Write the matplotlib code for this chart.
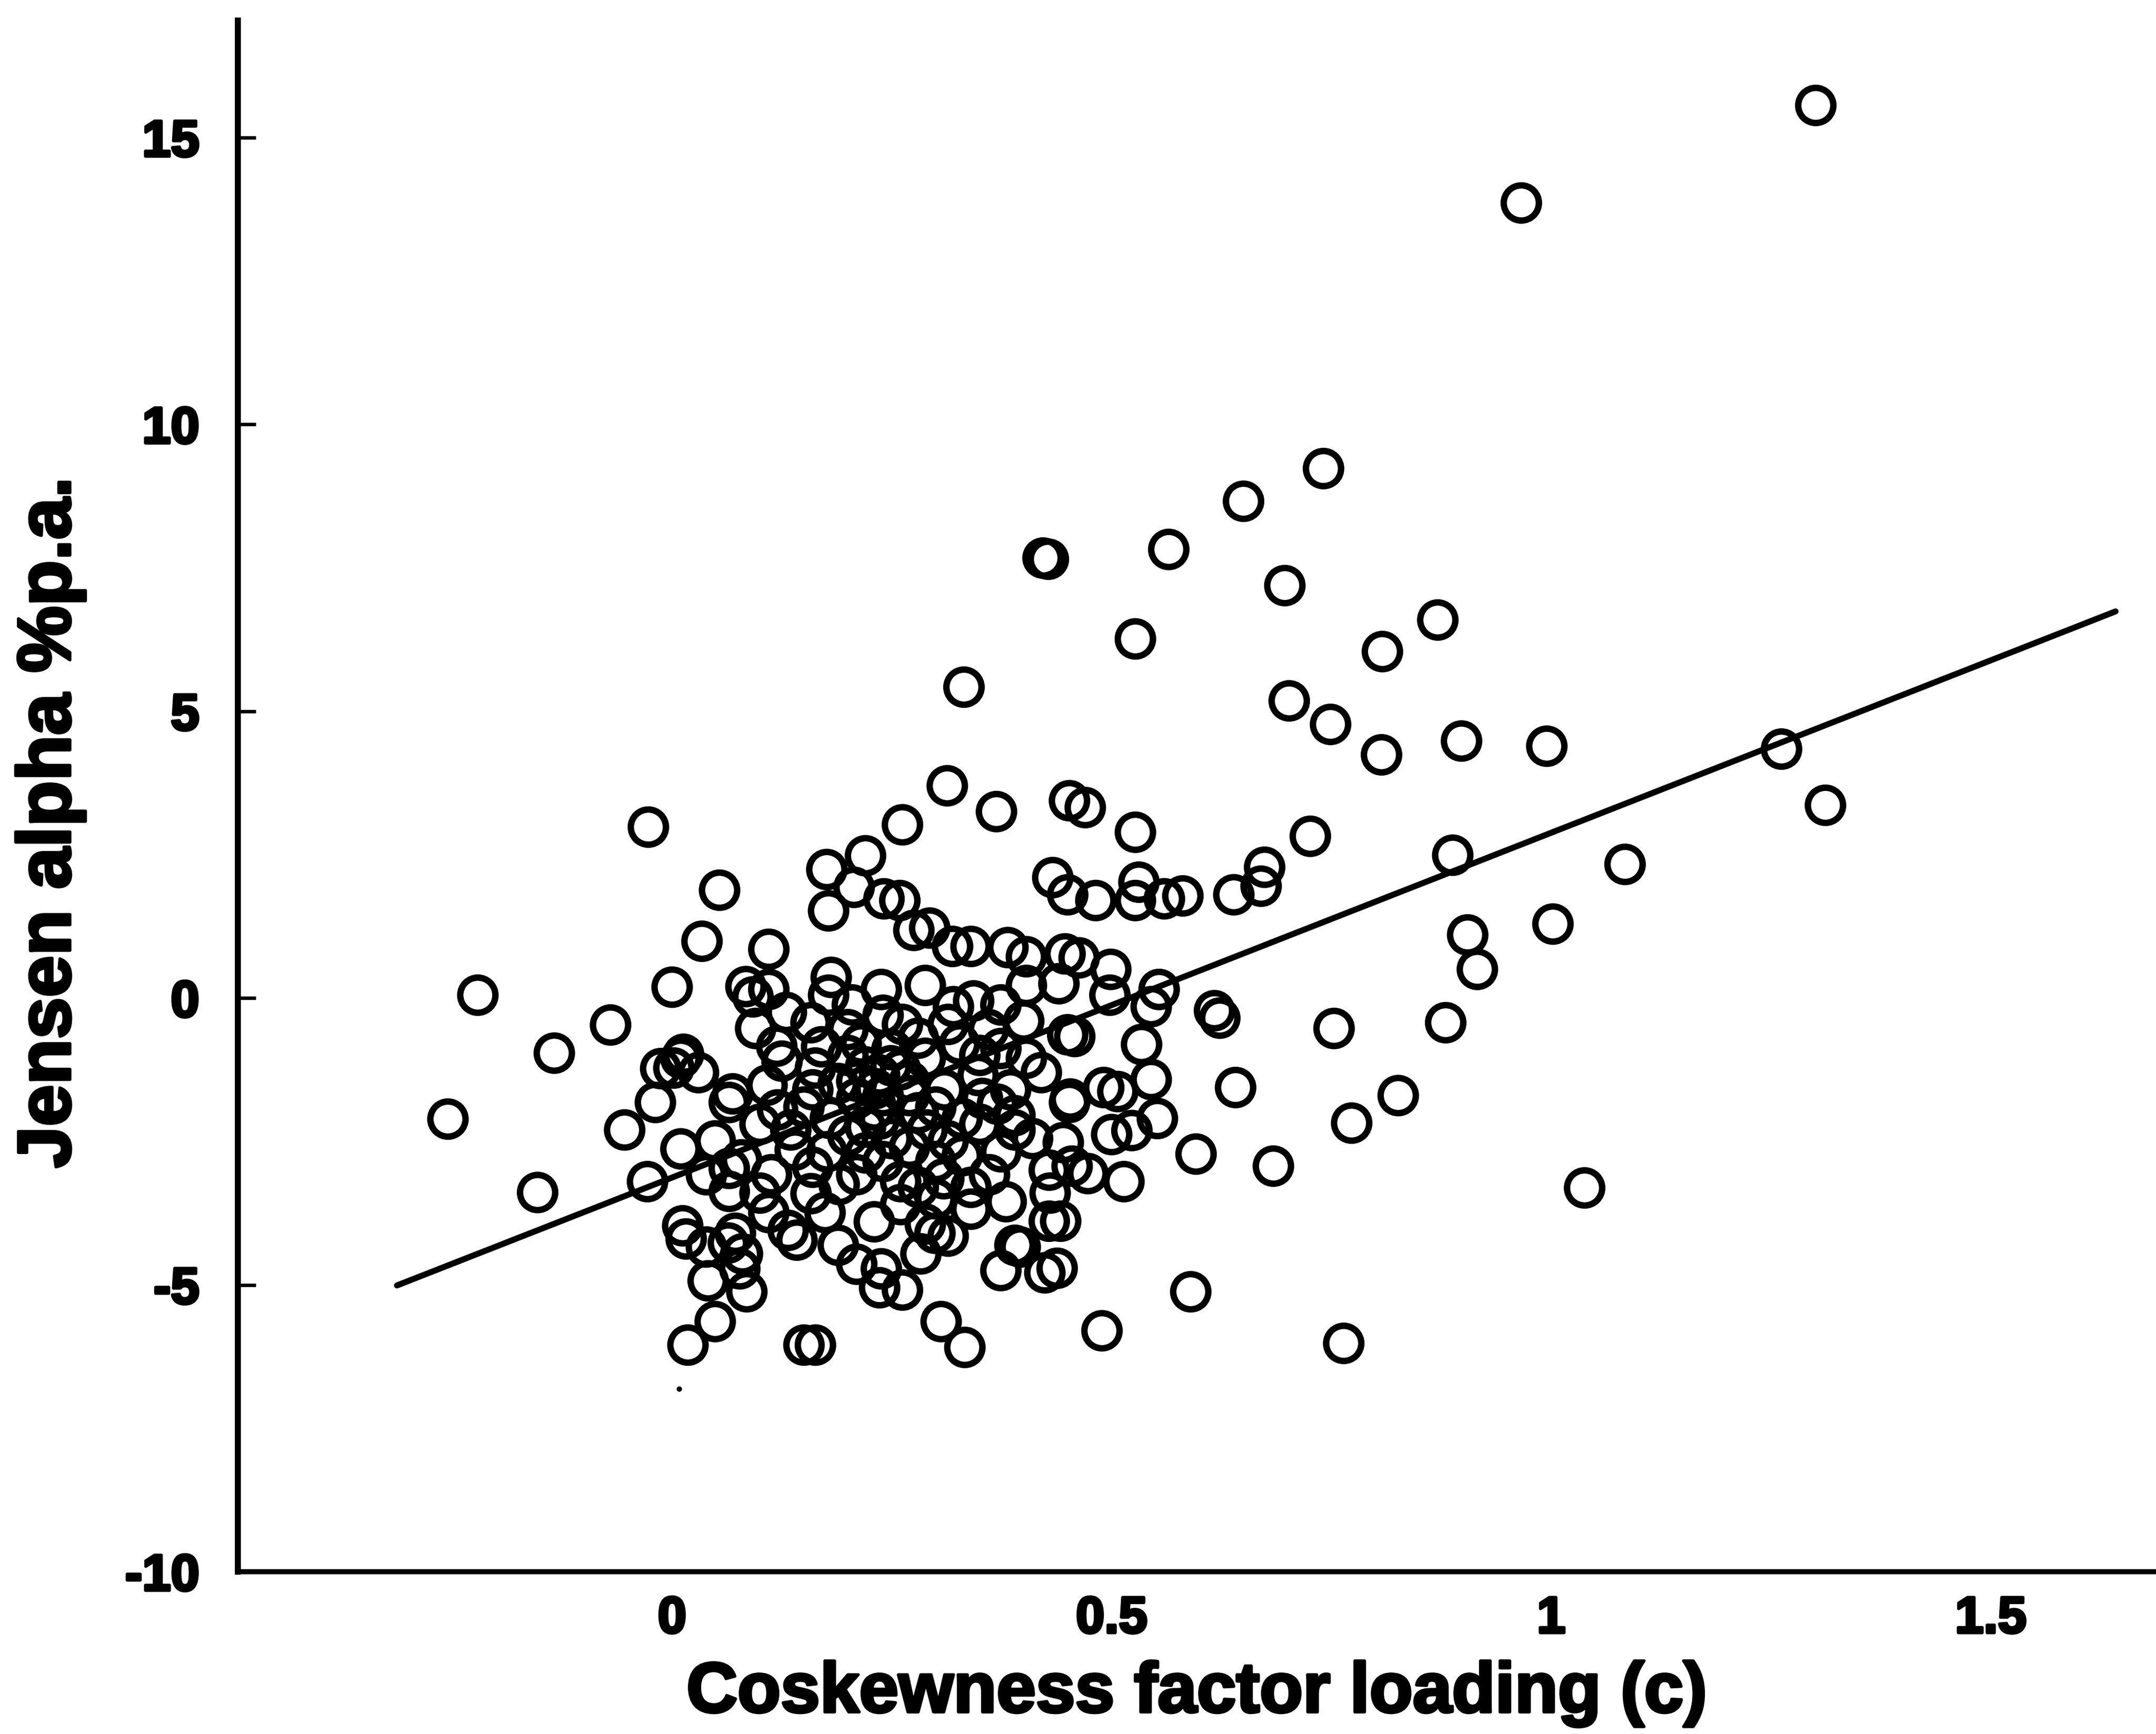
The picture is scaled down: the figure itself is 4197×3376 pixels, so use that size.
import matplotlib
matplotlib.use("Agg")
import matplotlib.pyplot as plt
import matplotlib.patheffects as pe
import numpy as np

plt.rcParams['font.family'] = ['Liberation Sans', 'DejaVu Sans']
plt.rcParams['font.weight'] = 'bold'

# ---- data ----
coskew = [
    1.301, 0.966, 0.741, 0.650, 0.422, 0.428, 0.565, 0.697, 0.527, 0.871, 0.808, 0.332, 0.702, 0.749,
    0.807, 0.898, 0.995, 1.262, 1.312, 0.313, 0.369, 0.452, 0.470, 0.262, -0.027, 0.527, 0.726,
    0.220, 0.888, 1.084, 0.176, 0.433, 0.531, 0.674, 0.670, 0.054, 0.207, 0.241, 0.259, 0.178, 0.450,
    0.482, 0.527, 0.560, 0.581, 0.639, 0.275, 0.293, 0.319, 0.340, 0.382, 0.403, 0.447, 0.034, 0.110,
    0.905, 1.002, 0.463, 0.499, 0.916,
    -0.221, 0.000, 0.084, 0.110, 0.181, 0.178, 0.238, 0.288, 0.403, 0.440, 0.498, 0.554, 0.545, 0.343,
    0.374, 0.205, 0.158, 0.095, 0.262, 0.314, 0.617, 0.623, -0.070, 0.753, 0.880, 0.092,
    -0.134, 0.450, 0.458, 0.534, 0.119, 0.215, 0.327, 0.374, 0.348, 0.163, 0.249, 0.288, 0.403, 0.010,
    0.013, 0.002, 0.030, -0.013, 0.545, 0.453, 0.491, 0.507, 0.641, 0.826, -0.019, 0.065, 0.108, 0.069,
    0.189, 0.231, 0.236, 0.385, 0.353, 0.452, 0.210, 0.270, 0.300, 0.150, 0.125, 0.200,
    -0.255, -0.054, 0.773, 0.552, 0.523, 0.500, 0.236, 0.314, 0.374, 0.445, 0.049, 0.010, 0.176, 0.079,
    0.596, 0.684, 0.455, 0.473, 0.514, 0.429, 0.361, 0.309, 0.280, 0.210, 0.158, 0.113, -0.028, 0.039,
    0.065, 0.065, -0.153, 1.038, 0.135, 0.270, 0.200, 0.330, 0.100, 0.160, 0.240, 0.390,
    0.012, 0.016, 0.039, 0.041, 0.049, 0.018, 0.085, 0.064, 0.077, 0.132, 0.189, 0.210, 0.236, 0.262,
    0.238, 0.374, 0.424, 0.390, 0.429, 0.340, 0.288, 0.314, 0.442, 0.438, 0.150, 0.163, 0.306, 0.333,
    0.489, 0.590, 0.764, 0.110, 0.174, 0.142, 0.283, 0.299, 0.396, 0.072, 0.080, 0.230, 0.260,
    0.200, 0.220, 0.250, 0.270, 0.290, 0.310, 0.330, 0.350, 0.370, 0.180, 0.160, 0.140, 0.220, 0.260,
    0.300, 0.340, 0.380, 0.410, 0.420, 0.400, 0.360, 0.320, 0.280, 0.240, 0.190, 0.120, 0.100, 0.230,
    0.250, 0.280, 0.210, 0.240, 0.260, 0.220, 0.300, 0.170, 0.130, 0.350, 0.390, 0.430,
]
alpha = [
    15.56, 13.86, 9.23, 8.66, 7.67, 7.65, 7.82, 7.19, 6.26, 6.59, 6.04, 5.42, 5.18, 4.77,
    4.24, 4.48, 4.39, 4.34, 3.36, 3.70, 3.25, 3.44, 3.32, 3.02, 2.98, 2.89, 2.82,
    2.48, 2.49, 2.33, 2.24, 2.10, 2.02, 2.28, 1.95, 1.88, 1.93, 1.73, 1.70, 1.52, 1.80,
    1.70, 1.70, 1.73, 1.78, 1.80, 1.18, 1.22, 0.90, 0.90, 0.88, 0.72, 0.77, 0.99, 0.85,
    1.10, 1.29, 0.70, 0.50, 0.50,
    0.05, 0.19, 0.20, 0.15, 0.36, 0.05, 0.15, 0.22, 0.22, 0.25, 0.05, 0.15, -0.15, -0.05,
    -0.12, -0.12, -0.43, -0.53, -0.46, -0.46, -0.22, -0.35, -0.47, -0.53, -0.43, 0.02,
    -0.96, -0.64, -0.67, -0.81, -0.84, -0.80, -0.80, -0.88, -1.35, -1.22, -1.18, -1.05, -1.05, -1.05,
    -0.98, -1.22, -1.30, -1.23, -1.42, -1.76, -1.56, -1.63, -1.56, -1.70, -1.82, -1.82, -1.52, -1.67,
    -1.49, -1.58, -1.34, -1.60, -1.75, -1.82, -1.75, -1.70, -1.90, -1.90, -1.10, -1.00,
    -2.11, -2.30, -2.18, -2.10, -2.31, -2.38, -2.11, -2.49, -2.68, -2.52, -2.49, -2.63, -2.68, -2.82,
    -2.72, -2.93, -2.93, -3.06, -3.20, -3.00, -3.08, -3.15, -3.30, -3.08, -3.41, -3.08, -3.20, -3.08,
    -2.97, -3.37, -3.39, -3.31, -2.30, -2.60, -2.40, -2.10, -2.20, -2.95, -2.85, -2.30,
    -3.97, -4.20, -4.34, -4.93, -5.64, -6.05, -5.12, -4.27, -4.72, -4.05, -4.31, -4.64, -5.05, -5.09,
    -4.72, -4.75, -4.79, -4.31, -3.89, -3.68, -3.94, -4.15, -3.89, -4.71, -6.05, -6.05, -5.64, -6.09,
    -5.80, -5.12, -6.02, -3.74, -3.74, -4.22, -4.46, -4.10, -4.34, -4.10, -4.46, -3.90, -3.60,
    -0.55, -1.20, -0.90, -1.45, -2.30, -1.60, -2.75, -2.20, -1.85, -2.10, -1.60, -2.65, -2.70, -3.20,
    -3.50, -3.30, -3.55, -2.45, -1.30, -0.40, -0.55, -0.15, -0.70, -0.30, -3.25, -1.95, -3.40, -1.95,
    -2.45, -2.00, -1.45, -1.70, -1.25, -2.25, -2.85, -0.85, -0.25, -1.00, -2.05, -3.40,
]

# fitted regression line end points
fit_x = [-0.313, 1.642]
fit_y = [-5.01, 6.74]

# stray speck visible in the reference
speck_x = [0.008]
speck_y = [-6.81]

xticks = [0, 0.5, 1, 1.5]
xticklabels = ['0', '0.5', '1', '1.5']
yticks = [-10, -5, 0, 5, 10, 15]
yticklabels = ['-10', '-5', '0', '5', '10', '15']

W, H = 4197, 3376
fig = plt.figure(figsize=(W / 300, H / 300), dpi=300)
ax = fig.add_axes([463 / W, 1 - 3060 / H, 1 - 463 / W, (3060 - 40) / H])

ax.plot(fit_x, fit_y, color='black', lw=2.8, solid_capstyle='round', zorder=2)
ax.scatter(coskew, alpha, s=270, facecolors='none', edgecolors='black',
           linewidths=3.0, zorder=3)
ax.plot(speck_x, speck_y, 'o', color='black', ms=1.5, zorder=3)

ax.set_xlim(-0.494, 1.688)
ax.set_ylim(-10, 17.04)

for s in ['top', 'right']:
    ax.spines[s].set_visible(False)
ax.spines['left'].set_linewidth(2.8)
ax.spines['bottom'].set_linewidth(2.4)

ax.set_xticks(xticks)
ax.set_xticklabels(xticklabels)
ax.set_yticks(yticks)
ax.set_yticklabels(yticklabels)
ax.tick_params(axis='y', direction='in', length=8.5, width=1.6, pad=18, labelsize=24)
ax.tick_params(axis='x', direction='in', length=0, width=1.6, pad=11, labelsize=24)
thick = [pe.withStroke(linewidth=1.4, foreground='black')]
for lab in ax.get_xticklabels() + ax.get_yticklabels():
    lab.set_fontweight('bold')
    lab.set_path_effects(thick)

ax.set_xlabel('Coskewness factor loading (c)', fontsize=33, fontweight='bold', labelpad=8,
              path_effects=thick)
ax.set_ylabel('Jensen alpha %p.a.', fontsize=35, fontweight='bold', path_effects=thick)
ax.yaxis.set_label_coords(-0.0795, 0.483)

fig.savefig('out.png', dpi=300, facecolor='white')
